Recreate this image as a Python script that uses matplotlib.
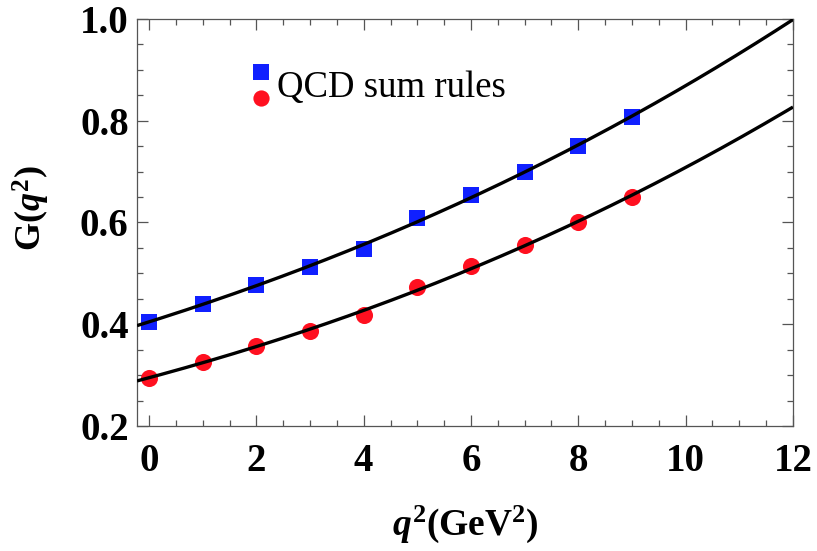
import numpy as np
import matplotlib
matplotlib.use("Agg")
import matplotlib.pyplot as plt
from matplotlib.lines import Line2D
from matplotlib.legend_handler import HandlerBase
from matplotlib.ticker import MultipleLocator

plt.rcParams['font.family'] = ['Liberation Serif', 'DejaVu Serif']
plt.rcParams['mathtext.fontset'] = 'custom'
plt.rcParams['mathtext.rm'] = 'Liberation Serif:bold'
plt.rcParams['mathtext.it'] = 'Liberation Serif:italic:bold'
plt.rcParams['mathtext.bf'] = 'Liberation Serif:bold'

# data
q2 = [0, 1, 2, 3, 4, 5, 6, 7, 8, 9]
g_blue = [0.405, 0.440, 0.477, 0.512, 0.548, 0.608, 0.654, 0.700, 0.751, 0.807]
g_red = [0.295, 0.326, 0.357, 0.387, 0.418, 0.474, 0.514, 0.556, 0.601, 0.651]
xticks = [0, 2, 4, 6, 8, 10, 12]
yticks = [0.2, 0.4, 0.6, 0.8, 1.0]
legend_label = "QCD sum rules"

blue = '#1020ff'
red = '#ff1020'

fig = plt.figure(figsize=(8.17, 5.51), dpi=100)
ax = fig.add_axes([0.1677, 0.2269, 0.8029, 0.7387])

# fitted curves: G(q^2) = G(0) exp(a q^2 + b q^4), fitted to the points
xx = np.linspace(-0.224, 12, 300)
for g in (g_blue, g_red):
    c = np.polyfit(q2, np.log(g), 2)
    ax.plot(xx, np.exp(np.polyval(c, xx)), color='black', lw=2.4, zorder=3,
            solid_capstyle='butt')

sq, = ax.plot(q2, g_blue, 's', color=blue, ms=11.5, mew=0, zorder=2)
ci, = ax.plot(q2, g_red, 'o', color=red, ms=12.3, mew=0, zorder=2)

ax.set_xlim(-0.224, 12)
ax.set_ylim(0.2, 1.0)
ax.set_xticks(xticks)
ax.set_yticks(yticks)
ax.set_xticklabels([str(t) for t in xticks])
ax.set_yticklabels([f"{t:.1f}" for t in yticks])
ax.xaxis.set_minor_locator(MultipleLocator(0.5))
ax.yaxis.set_minor_locator(MultipleLocator(0.05))
ax.tick_params(which='both', direction='in', top=True, right=True, color='#555555', width=0.9)
ax.tick_params(which='major', length=8, labelsize=28)
ax.tick_params(axis='y', which='major', pad=6)
ax.tick_params(axis='x', which='major', pad=12)
ax.tick_params(which='minor', length=4.5)
for lab in ax.get_xticklabels() + ax.get_yticklabels():
    lab.set_fontweight('bold')
for s in ax.spines.values():
    s.set_color('#555555')
    s.set_linewidth(0.9)

ax.set_xlabel('$q^2$(GeV$^2$)', fontsize=27, fontweight='bold')
ax.set_ylabel('G($q^2$)', fontsize=26, fontweight='bold')
ax.xaxis.set_label_coords(0.5, -0.19)
ax.yaxis.set_label_coords(-0.13, 0.536)


class StackHandler(HandlerBase):
    def create_artists(self, legend, orig_handle, xdescent, ydescent,
                       width, height, fontsize, trans):
        a, b = orig_handle
        x = width / 2 - xdescent
        h1 = Line2D([x], [height * 0.98 - ydescent], marker='s', ls='',
                    color=a.get_color(), ms=a.get_markersize() * 0.95, mew=0, transform=trans)
        h2 = Line2D([x], [-height * 0.04 - ydescent], marker='o', ls='',
                    color=b.get_color(), ms=b.get_markersize() * 0.95, mew=0, transform=trans)
        return [h1, h2]


ax.legend([(sq, ci)], [legend_label], handler_map={tuple: StackHandler()},
          loc='center left', bbox_to_anchor=(0.172, 0.83), frameon=False,
          fontsize=26.5, handlelength=0.62, handletextpad=0.12, borderpad=0,
          borderaxespad=0)

fig.savefig('out.png', dpi=100)
